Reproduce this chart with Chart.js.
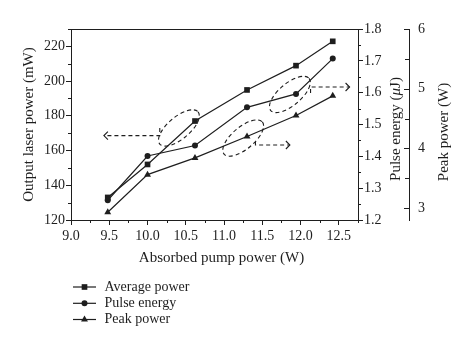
<!DOCTYPE html>
<html>
<head>
<meta charset="utf-8">
<script src="https://cdn.jsdelivr.net/npm/chart.js@4"></script>
<style>
  html, body { margin: 0; padding: 0; background: #ffffff; }
  #wrap { width: 474px; height: 350px; position: relative; }
</style>
</head>
<body>
<div id="wrap"><canvas id="c" width="474" height="350"></canvas></div>
<script>
// ---- data ----
const pumpPower    = [9.48, 10.0, 10.62, 11.3, 11.94, 12.42];      // Absorbed pump power (W)
const averagePower = [133, 152, 177, 194.9, 208.9, 222.9];          // mW (left axis)
const pulseEnergy  = [1.262, 1.401, 1.434, 1.554, 1.596, 1.707];    // µJ (right axis)
const peakPower    = [2.93, 3.56, 3.84, 4.20, 4.55, 4.88];          // W (outer right axis)
const seriesNames  = ['Average power', 'Pulse energy', 'Peak power'];
const xTitle  = 'Absorbed pump power (W)';
const y1Title = 'Output laser power (mW)';
const y2TitleParts = [{t: 'Pulse energy (', i: false}, {t: 'μ', i: true}, {t: 'J)', i: false}];
const y3Title = 'Peak power (W)';

// annotation guides (x in W, y in left-axis mW units)
const ellipses = [
  {x: 10.41, y: 173.0},
  {x: 11.25, y: 167.2},
  {x: 11.86, y: 192.3}
];
const arrows = [
  {x0: 10.16, y0: 173.0, y: 168.6, x1: 9.43},
  {x0: 11.41, y0: 165.1, y: 163.2, x1: 11.86},
  {x0: 12.13, y0: 193.2, y: 196.6, x1: 12.64}
];

const INK = '#1e1e1e';
const FONT = '"Liberation Serif", "Times New Roman", serif';
Chart.defaults.font.family = FONT;
Chart.defaults.font.size = 14;
Chart.defaults.color = INK;

function pts(ys) { return pumpPower.map((x, i) => ({x: x, y: ys[i]})); }

function marker(ctx, style, x, y, r) {
  ctx.beginPath();
  if (style === 'rect') {
    const s = r * Math.SQRT1_2;
    ctx.rect(x - s, y - s, 2 * s, 2 * s);
  } else if (style === 'circle') {
    ctx.arc(x, y, r, 0, Math.PI * 2);
  } else {
    ctx.moveTo(x, y - r);
    ctx.lineTo(x - r * Math.sin(Math.PI / 3), y + r / 2);
    ctx.lineTo(x + r * Math.sin(Math.PI / 3), y + r / 2);
    ctx.closePath();
  }
  ctx.fill();
}

function range(a, b, step) { const o = []; for (let v = a; v <= b + 1e-9; v += step) o.push(+v.toFixed(4)); return o; }

const extras = {
  id: 'extras',
  afterDraw(chart) {
    const ctx = chart.ctx;
    const ca = chart.chartArea;
    const sx = chart.scales.x, sy = chart.scales.y, s2 = chart.scales.y2, s3 = chart.scales.y3;
    ctx.save();
    ctx.strokeStyle = INK;
    ctx.fillStyle = INK;
    ctx.lineWidth = 1;
    // top frame
    ctx.beginPath();
    ctx.moveTo(ca.left, ca.top + 0.5); ctx.lineTo(ca.right, ca.top + 0.5);
    ctx.stroke();
    // minor ticks
    ctx.beginPath();
    range(9.25, 12.75, 0.5).forEach(v => { const p = Math.round(sx.getPixelForValue(v)) + 0.5; ctx.moveTo(p, ca.bottom); ctx.lineTo(p, ca.bottom + 3); });
    range(130, 230, 20).forEach(v => { const p = Math.round(sy.getPixelForValue(v)) + 0.5; ctx.moveTo(ca.left, p); ctx.lineTo(ca.left - 3, p); });
    range(1.25, 1.75, 0.1).forEach(v => { const p = Math.round(s2.getPixelForValue(v)) + 0.5; ctx.moveTo(ca.right, p); ctx.lineTo(ca.right + 3, p); });
    // outer axis ticks point inward (left)
    range(3, 6, 0.5).forEach(v => { const p = Math.round(s3.getPixelForValue(v)) + 0.5; const L = Number.isInteger(v) ? 5 : 4; ctx.moveTo(s3.left, p); ctx.lineTo(s3.left - L, p); });
    ctx.stroke();

    // titles
    ctx.font = '15px ' + FONT;
    ctx.textBaseline = 'middle';
    ctx.textAlign = 'center';
    ctx.fillText(xTitle, 221.5, 258);
    // y2 rich title rotated
    ctx.save();
    ctx.translate(396, 129);
    ctx.rotate(-Math.PI / 2);
    ctx.textAlign = 'left';
    let total = 0;
    y2TitleParts.forEach(p => { ctx.font = (p.i ? 'italic ' : '') + '15px ' + FONT; total += ctx.measureText(p.t).width; });
    let cx = -total / 2;
    y2TitleParts.forEach(p => { ctx.font = (p.i ? 'italic ' : '') + '15px ' + FONT; ctx.fillText(p.t, cx, 0); cx += ctx.measureText(p.t).width; });
    ctx.restore();
    ctx.save();
    ctx.translate(444, 132);
    ctx.rotate(-Math.PI / 2);
    ctx.font = '15px ' + FONT;
    ctx.textAlign = 'center';
    ctx.fillText(y3Title, 0, 0);
    ctx.restore();

    // dashed annotation ellipses and arrows
    ctx.setLineDash([4, 3]);
    ctx.lineWidth = 1.1;
    ellipses.forEach(e => {
      const px = sx.getPixelForValue(e.x), py = sy.getPixelForValue(e.y);
      ctx.beginPath();
      ctx.ellipse(px, py, 25, 11, -40 * Math.PI / 180, 0, Math.PI * 2);
      ctx.stroke();
    });
    arrows.forEach(a => {
      const x0 = sx.getPixelForValue(a.x0), y0 = sy.getPixelForValue(a.y0);
      const yy = sy.getPixelForValue(a.y), x1 = sx.getPixelForValue(a.x1);
      ctx.setLineDash([4, 3]);
      ctx.beginPath();
      ctx.moveTo(x0, y0); ctx.lineTo(x0, yy); ctx.lineTo(x1, yy);
      ctx.stroke();
      ctx.setLineDash([]);
      const d = x1 < x0 ? 1 : -1;
      ctx.beginPath();
      ctx.moveTo(x1 + d * 4, yy - 4); ctx.lineTo(x1, yy); ctx.lineTo(x1 + d * 4, yy + 4);
      ctx.stroke();
    });
    ctx.setLineDash([]);

    // legend
    const rows = [287, 303.3, 319.5];
    ctx.font = '14px ' + FONT;
    ctx.textAlign = 'left';
    chart.data.datasets.forEach((ds, i) => {
      const y = rows[i];
      ctx.lineWidth = 1.2;
      ctx.beginPath(); ctx.moveTo(73, y); ctx.lineTo(96, y); ctx.stroke();
      marker(ctx, ds.pointStyle, 84.5, y, ds.pointRadius);
      ctx.fillText(ds.label, 104.5, y);
    });
    ctx.restore();
  }
};

const ds = (label, data, axis, style, r) => ({
  label: label, data: data, yAxisID: axis,
  borderColor: INK, backgroundColor: INK, borderWidth: 1.2,
  pointStyle: style, pointRadius: r, pointBackgroundColor: INK, pointBorderColor: INK,
  pointBorderWidth: 0, tension: 0, clip: false
});

new Chart(document.getElementById('c'), {
  type: 'line',
  data: {
    datasets: [
      ds(seriesNames[0], pts(averagePower), 'y', 'rect', 4),
      ds(seriesNames[1], pts(pulseEnergy), 'y2', 'circle', 3),
      ds(seriesNames[2], pts(peakPower), 'y3', 'triangle', 4)
    ]
  },
  options: {
    responsive: false,
    animation: false,
    events: [],
    layout: { padding: { top: 29, bottom: 80, left: 0, right: 0 } },
    plugins: { legend: { display: false }, tooltip: { enabled: false } },
    scales: {
      x: {
        type: 'linear', position: 'bottom', min: 9, max: 12.75,
        afterFit: s => { s.height = 50; },
        grid: { drawOnChartArea: false, tickLength: 5, color: INK },
        border: { color: INK, width: 1 },
        ticks: { stepSize: 0.5, includeBounds: false, padding: 3, maxRotation: 0, autoSkip: false,
                 callback: v => Number(v).toFixed(1) }
      },
      y: {
        type: 'linear', position: 'left', min: 120, max: 230,
        afterFit: s => { s.width = 71; },
        grid: { drawOnChartArea: false, tickLength: 5, color: INK },
        border: { color: INK, width: 1 },
        title: { display: true, text: y1Title, font: { size: 15 }, padding: { top: 20, bottom: 0 } },
        ticks: { stepSize: 20, includeBounds: false, padding: 1, callback: v => String(v) }
      },
      y2: {
        type: 'linear', position: 'right', min: 1.2, max: 1.8,
        afterFit: s => { s.width = 51; },
        grid: { drawOnChartArea: false, tickLength: 5, color: INK },
        border: { color: INK, width: 1 },
        ticks: { stepSize: 0.1, includeBounds: false, padding: 1, callback: v => Number(v).toFixed(1) }
      },
      y3: {
        type: 'linear', position: 'right', min: 2.8, max: 6,
        afterFit: s => { s.width = 65; },
        grid: { display: false, drawTicks: false },
        border: { display: true, color: INK, width: 1 },
        ticks: { stepSize: 1, includeBounds: false, padding: 9, callback: v => String(v) }
      }
    }
  },
  plugins: [extras]
});
</script>
</body>
</html>
